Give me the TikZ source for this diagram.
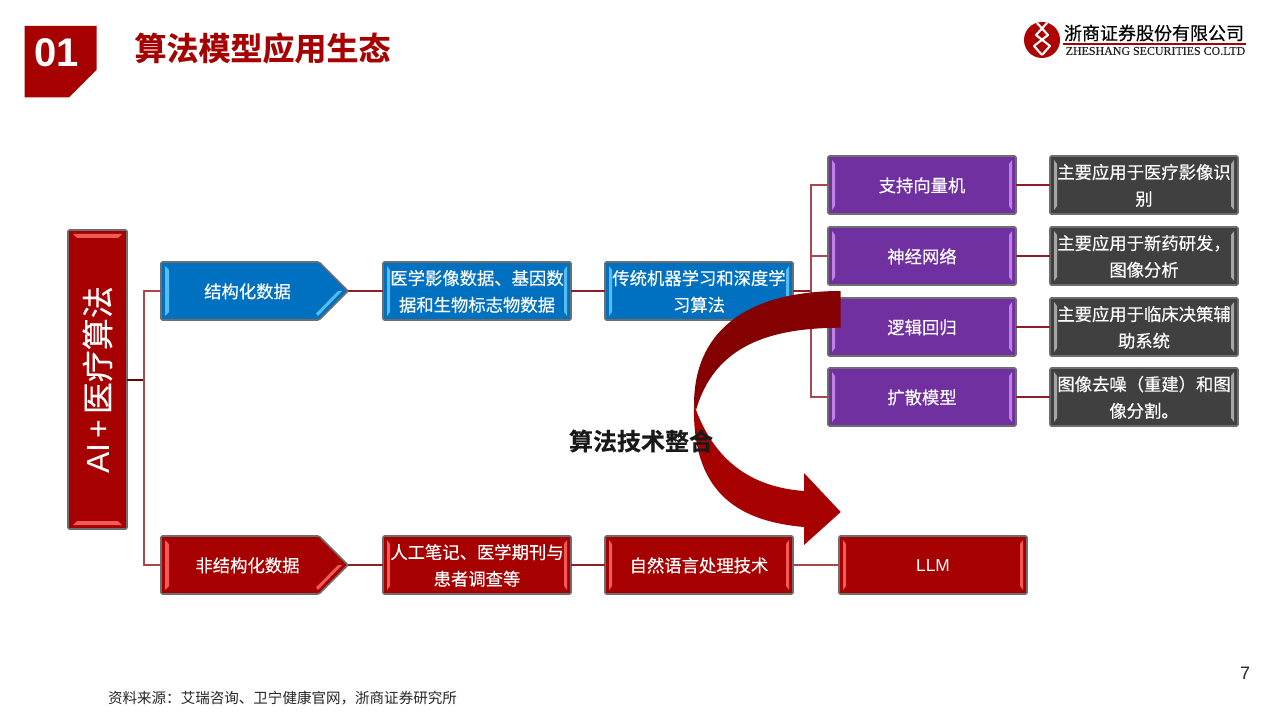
\documentclass[tikz,border=0pt]{standalone}
\usepackage{fontspec}
\setmainfont{Noto Sans CJK SC}
\newfontfamily\arialf{Liberation Sans}
\newfontfamily\timesf{Liberation Serif}[FakeBold=0.3]
\newfontfamily\boxf{Noto Sans CJK SC}[FakeBold=0.35]
\newfontfamily\titlef{Noto Sans CJK SC Bold}[FakeBold=0.4]
\definecolor{brickred}{HTML}{A60000}
\definecolor{darkarrow}{HTML}{850000}
\definecolor{boxblue}{HTML}{0070C0}
\definecolor{boxpurple}{HTML}{7030A0}
\definecolor{boxgray}{HTML}{404040}
\definecolor{bevelgray}{HTML}{6E6E6E}
\definecolor{linkred}{HTML}{8E1F24}
\definecolor{linklight}{HTML}{A8484C}
\definecolor{lightblue}{HTML}{55BDF0}
\definecolor{lightpurple}{HTML}{BF80E0}
\definecolor{lightred}{HTML}{F05A5A}
\definecolor{lightgray}{HTML}{A6A6A6}
\tikzset{
  x=0.75pt,y=-0.75pt,
  shell/.style={draw=bevelgray,line width=1.2pt,rounded corners=1pt,line join=round},
  boxtext/.style={text=white,font=\boxf\fontsize{13pt}{20pt}\selectfont,align=center,inner sep=0pt},
  link/.style={draw=linkred,line width=1.1pt},
  linksoft/.style={draw=linklight,line width=1.1pt},
  linkheavy/.style={draw=darkarrow!85!black,line width=1.9pt},
}
% name, x1, y1, x2, y2, fill, light, text
\newcommand{\bevbox}[8]{%
  \path[shell,fill=#6] (#2,#3) rectangle (#4,#5);
  \fill[#7] ({#2+4},{#3+4}) -- ({#2+7},{#3+8}) -- ({#2+7},{#5-8}) -- ({#2+4},{#5-4}) -- cycle;
  \fill[#7] ({#4-4},{#3+4}) -- ({#4-7},{#3+8}) -- ({#4-7},{#5-8}) -- ({#4-4},{#5-4}) -- cycle;
  \node[boxtext,minimum width={(#4-#2)*0.75pt},minimum height={(#5-#3)*0.75pt}] (#1) at ({(#2+#4)/2},{(#3+#5)/2}) {};
  \node[boxtext] at ({(#2+#4)/2},{(#3+#5)/2+0.4}) {#8};
}
% name, y1, y2, fill, light, text : pentagon from x=161 to x=348
\newcommand{\pentbox}[6]{%
  \path[shell,fill=#4] (161,#2) -- (319,#2) -- (348,{(#2+#3)/2}) -- (319,#3) -- (161,#3) -- cycle;
  \fill[#5] (165,{#2+4}) -- (169,{#2+8}) -- (169,{#3-8}) -- (165,{#3-4}) -- cycle;
  \fill[#5] (318,{#3-4}) -- (342,{(#2+#3)/2}) -- (338,{(#2+#3)/2}) -- (316,{#3-6.5}) -- cycle;
  \node[minimum width={(348-161)*0.75pt},minimum height={(#3-#2)*0.75pt},inner sep=0pt] (#1) at (254.5,{(#2+#3)/2}) {};
  \node[boxtext] at (247.5,{(#2+#3)/2+0.4}) {#6};
}
\begin{document}
\begin{tikzpicture}
\useasboundingbox (0,0) rectangle (1280,720);
\fill[white] (0,0) rectangle (1280,720);

% header
\fill[brickred] (24.5,26) -- (96.5,26) -- (96.5,70) -- (69,97.5) -- (24.5,97.5) -- cycle;
\node[text=white,font=\arialf\bfseries\fontsize{30pt}{30pt}\selectfont,inner sep=0pt] (num) at (56.5,52.5) {01};
\node[text=brickred,font=\titlef\fontsize{24pt}{24pt}\selectfont,inner sep=0pt] (title) at (262.5,48) {算法模型应用生态};

% logo
\fill[brickred!90!red] (1042,40) circle (18);
\draw[white,line width=1.6pt,line join=round] (1037,23) -- (1048,35) -- (1034,46) -- (1042,55);
\draw[white,line width=1.6pt,line join=round] (1047,23) -- (1036,35) -- (1050,46) -- (1042,55);
\node[text=black,font=\boxf\fontsize{13.5pt}{14pt}\selectfont,inner sep=0pt] (logocn) at (1154,33) {浙商证券股份有限公司};
\fill[brickred] (1063,43) rectangle (1246,45);
\node[text=black!85,font=\timesf\fontsize{8.95pt}{9pt}\selectfont,inner sep=0pt] (logoen) at (1155.5,51) {ZHESHANG SECURITIES CO.LTD};

% main box
\path[shell,fill=brickred] (68,230) rectangle (127,529);
\fill[lightred] (73,234) -- (122,234) -- (118,238) -- (77,238) -- cycle;
\fill[lightred] (73,525) -- (122,525) -- (118,521) -- (77,521) -- cycle;
\node[minimum width={59*0.75pt},minimum height={299*0.75pt},inner sep=0pt] (main) at (97.5,379.5) {};
\node[rotate=90,text=white,font=\boxf\fontsize{24pt}{24pt}\selectfont,inner sep=0pt] (mainlabel) at (97.5,380) {\arialf AI\,+\,\boxf 医疗算法};

% upper row
\pentbox{struct}{262}{320}{boxblue}{lightblue}{结构化数据}
\bevbox{med}{383}{262}{571}{320}{boxblue}{lightblue}{医学影像数据、基因数\\据和生物标志物数据}
\bevbox{ml}{605}{262}{793}{320}{boxblue}{lightblue}{传统机器学习和深度学\\习算法}

\bevbox{svm}{828}{156}{1016}{214}{boxpurple}{lightpurple}{支持向量机}
\bevbox{nn}{828}{227}{1016}{285}{boxpurple}{lightpurple}{神经网络}
\bevbox{lr}{828}{298}{1016}{356}{boxpurple}{lightpurple}{逻辑回归}
\bevbox{diff}{828}{368}{1016}{426}{boxpurple}{lightpurple}{扩散模型}

\bevbox{svmapp}{1050}{156}{1238}{214}{boxgray}{lightgray}{主要应用于医疗影像识\\别}
\bevbox{nnapp}{1050}{227}{1238}{285}{boxgray}{lightgray}{主要应用于新药研发，\\图像分析}
\bevbox{lrapp}{1050}{298}{1238}{356}{boxgray}{lightgray}{主要应用于临床决策辅\\助系统}
\bevbox{diffapp}{1050}{368}{1238}{426}{boxgray}{lightgray}{图像去噪（重建）和图\\像分割。}

% lower row
\pentbox{unstruct}{536}{594}{brickred}{lightred}{非结构化数据}
\bevbox{notes}{383}{536}{571}{594}{brickred}{lightred}{人工笔记、医学期刊与\\患者调查等}
\bevbox{nlp}{605}{536}{793}{594}{brickred}{lightred}{自然语言处理技术}
\bevbox{llm}{839}{536}{1027}{594}{brickred}{lightred}{\arialf LLM}

% connectors
\coordinate (trunk) at (144,380);
\coordinate (fork) at (811,291);
\draw[linkheavy] (main.east |- trunk) -- (trunk);
\draw[linksoft] (trunk) |- (struct.west);
\draw[linksoft] (trunk) |- (unstruct.west);
\draw[link] (struct.east) -- (med.west);
\draw[link] (med.east) -- (ml.west);
\draw[link] (ml.east) -- (fork);
\draw[linksoft] (fork) |- (svm.west);
\draw[linksoft] (fork) |- (nn.west);
\draw[linksoft] (fork) |- (lr.west);
\draw[linksoft] (fork) |- (diff.west);
\draw[link] (svm.east) -- (svmapp.west);
\draw[link] (nn.east) -- (nnapp.west);
\draw[link] (lr.east) -- (lrapp.west);
\draw[link] (diff.east) -- (diffapp.west);
\draw[link] (unstruct.east) -- (notes.west);
\draw[link] (notes.east) -- (nlp.west);
\draw[linksoft] (nlp.east) -- (llm.west);

% curved arrow
\fill[darkarrow] (840.7,291) .. controls (755,291) and (694,325) .. (694,405) -- (696,410) .. controls (715,345) and (770,328) .. (840.7,327.7) -- cycle;
\fill[brickred] (694,405) .. controls (692,490) and (735,521) .. (804,527) -- (804,545) -- (840.7,512) -- (804,473) -- (804,491) .. controls (750,487) and (715,460) .. (696,410) -- cycle;
\node[text=black!90,font=\titlef\fontsize{18pt}{18pt}\selectfont,inner sep=0pt] (merge) at (641,441) {算法技术整合};

% footer
\node[text=black!85,font=\fontsize{10.9pt}{11pt}\selectfont,inner sep=0pt] (source) at (282.5,698) {资料来源：艾瑞咨询、卫宁健康官网，浙商证券研究所};
\node[text=black!85,font=\arialf\fontsize{13.5pt}{14pt}\selectfont,inner sep=0pt] (page) at (1245,673) {7};
\end{tikzpicture}
\end{document}
